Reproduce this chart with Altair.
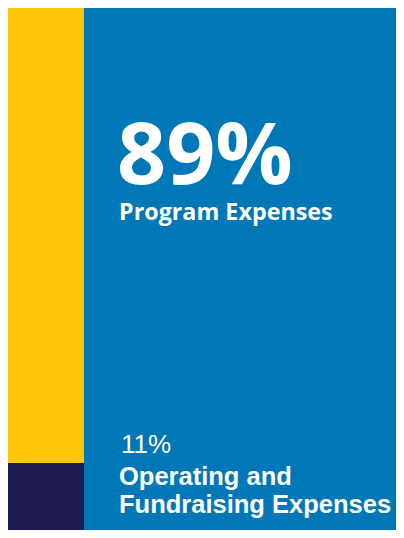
import altair as alt
import pandas as pd

categories = ["Operating and Fundraising Expenses", "Program Expenses"]
values = [11, 89]
stack_order = [0, 1]
colors = ["#1E1B52", "#FFC708"]

big_label = ["89%"]
big_sub = ["Program Expenses"]
small_label = ["11%"]
small_sub = [["Operating and", "Fundraising Expenses"]]

BG = "#0077B6"

bars_df = pd.DataFrame({"category": categories, "value": values, "order": stack_order, "col": ["all", "all"]})

bar = (
    alt.Chart(bars_df)
    .mark_bar()
    .encode(
        x=alt.X("col:N", axis=None, scale=alt.Scale(paddingInner=0, paddingOuter=0)),
        y=alt.Y("value:Q", stack="zero", axis=None,
                scale=alt.Scale(type="pow", exponent=0.93, domain=[0, 100], nice=False, zero=True)),
        color=alt.Color("category:N", legend=None,
                        scale=alt.Scale(domain=categories, range=colors)),
        order=alt.Order("order:Q"),
    )
    .properties(width=76, height=522)
)

txt_df = pd.DataFrame({
    "big": big_label, "bigsub": big_sub,
    "small": small_label,
})
txt_df["smallsub"] = small_sub

base = alt.Chart(txt_df)
t1 = base.mark_text(align="left", baseline="alphabetic", font="Open Sans", fontWeight="bold",
                    fontSize=86, color="white").encode(x=alt.value(33), y=alt.value(176), text="big:N")
t2 = base.mark_text(align="left", baseline="alphabetic", font="Open Sans", fontWeight="bold",
                    fontSize=23.3, color="white").encode(x=alt.value(35), y=alt.value(212), text="bigsub:N")
t3 = base.mark_text(align="left", baseline="alphabetic", font="Liberation Sans",
                    fontSize=26, color="white").encode(x=alt.value(37), y=alt.value(445), text="small:N")
t4 = base.mark_text(align="left", baseline="alphabetic", font="Liberation Sans", fontWeight="bold",
                    fontSize=25.5, lineHeight=28, color="white").encode(x=alt.value(35), y=alt.value(477), text="smallsub")

texts = alt.layer(t1, t2, t3, t4).properties(width=312, height=522)

chart = (
    alt.hconcat(bar, texts, spacing=0)
    .properties(padding=0, background=BG)
    .configure_view(stroke=None, fill=BG)
    .configure_concat(spacing=0)
)

chart.save("out.html", embed_options={"renderer": "svg", "actions": False})
